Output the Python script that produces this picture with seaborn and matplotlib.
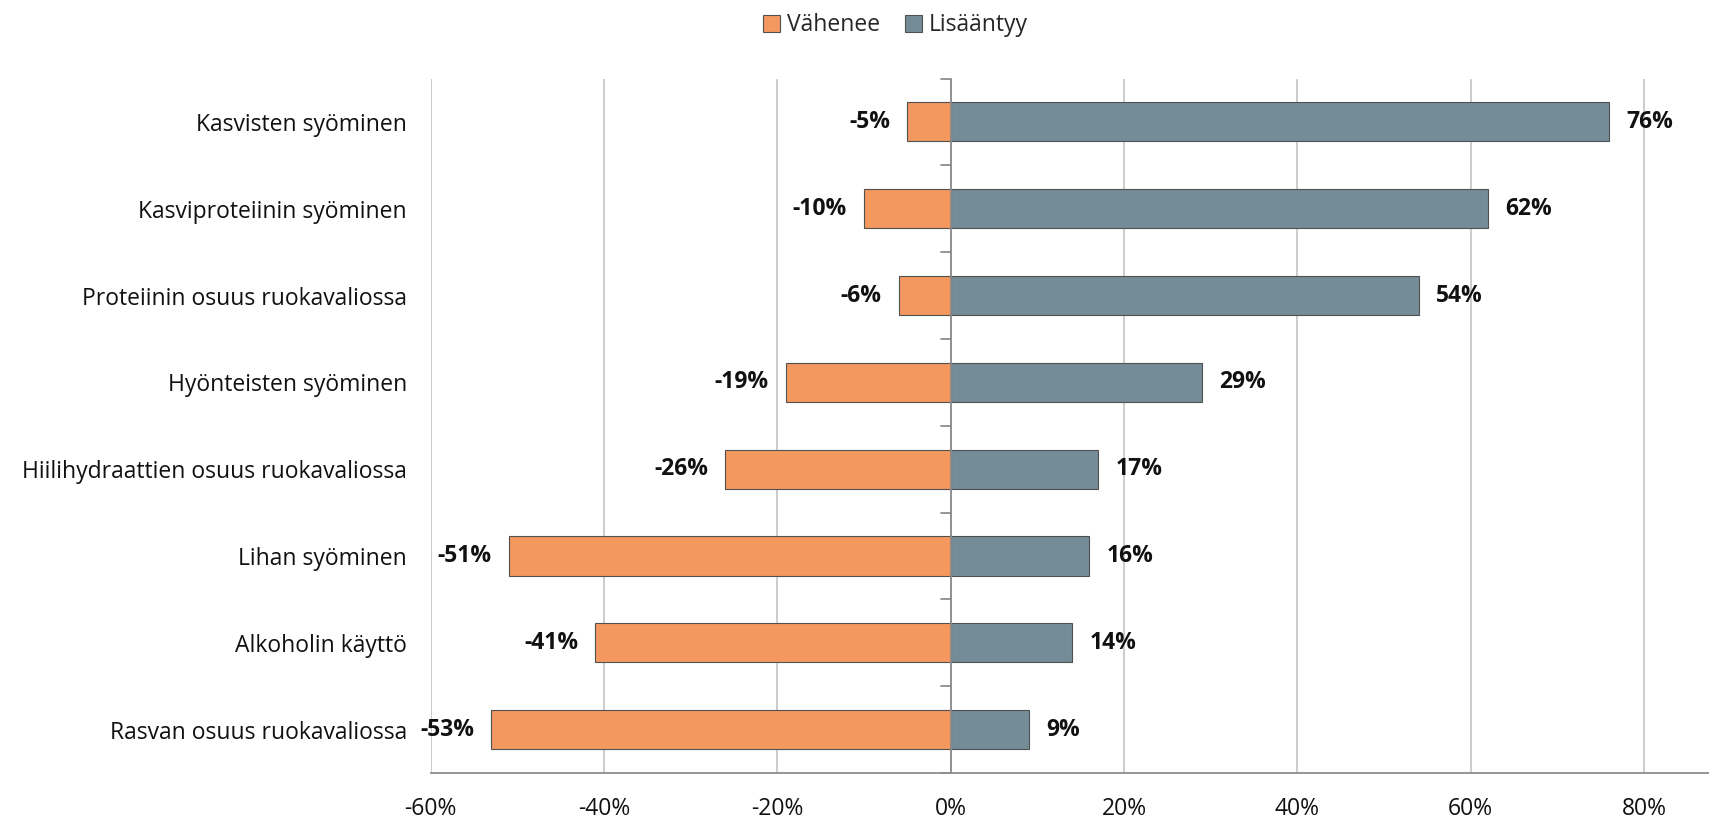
import matplotlib
matplotlib.use("Agg")
import matplotlib.pyplot as plt
import seaborn as sns
import pandas as pd
from matplotlib.patches import Patch

categories = [
    "Kasvisten syöminen",
    "Kasviproteiinin syöminen",
    "Proteiinin osuus ruokavaliossa",
    "Hyönteisten syöminen",
    "Hiilihydraattien osuus ruokavaliossa",
    "Lihan syöminen",
    "Alkoholin käyttö",
    "Rasvan osuus ruokavaliossa",
]
decrease = [-5, -10, -6, -19, -26, -51, -41, -53]
increase = [76, 62, 54, 29, 17, 16, 14, 9]
series_names = ["Vähenee", "Lisääntyy"]
x_ticks = [-60, -40, -20, 0, 20, 40, 60, 80]

colors = {"Vähenee": "#F4985F", "Lisääntyy": "#748C97"}

sns.set_theme(style="white")
plt.rcParams["font.family"] = ["Open Sans", "DejaVu Sans"]
FS = 16.5

df = pd.DataFrame({
    "kategoria": categories * 2,
    "arvo": decrease + increase,
    "sarja": [series_names[0]] * len(categories) + [series_names[1]] * len(categories),
})

fig = plt.figure(figsize=(17.09, 8.18), dpi=100)
ax = fig.add_axes([0.252, 0.055, 0.748, 0.849])

sns.barplot(
    data=df, y="kategoria", x="arvo", hue="sarja", dodge=False,
    palette=colors, saturation=1, orient="h", width=0.45, edgecolor="#505050",
    linewidth=0.8, ax=ax, legend=False, order=categories,
    hue_order=series_names,
)

ax.set_xlim(-60, 87.5)
ax.set_ylim(len(categories) - 0.5, -0.5)
ax.set_xticks(x_ticks)
ax.set_xticklabels([f"{t}%" for t in x_ticks], fontsize=FS, color="#111111")
ax.set_xlabel("")
ax.set_ylabel("")

# vertical gridlines
ax.grid(axis="x", color="#c8c8c8", linewidth=1.3)
ax.set_axisbelow(True)

for side in ["top", "right", "left"]:
    ax.spines[side].set_visible(False)
ax.spines["bottom"].set_color("#8c8c8c")
ax.spines["bottom"].set_linewidth(1.3)
ax.tick_params(axis="x", length=6, width=1.3, color="#8c8c8c", direction="out", pad=11)

# zero line acts as the category axis, ticks between categories
ax.axvline(0, color="#8c8c8c", linewidth=1.3, zorder=3)
ax.set_yticks(range(len(categories)))
ax.set_yticklabels(categories, fontsize=FS, color="#111111")
ax.tick_params(axis="y", length=0, pad=17)
for b in [i + 0.5 for i in range(-1, len(categories))]:
    ax.plot([-1.1, 0], [b, b], color="#8c8c8c", linewidth=1.3, zorder=3, clip_on=False)

# value labels
for i, (d, u) in enumerate(zip(decrease, increase)):
    ax.text(d - 2.0, i, f"{d}%", ha="right", va="center", fontsize=FS,
            fontweight="bold", color="#111111")
    ax.text(u + 2.0, i, f"{u}%", ha="left", va="center", fontsize=FS,
            fontweight="bold", color="#111111")

handles = [Patch(facecolor=colors[s], edgecolor="#505050", linewidth=0.8) for s in series_names]
fig.legend(handles, series_names, loc="center", bbox_to_anchor=(0.524, 0.969), ncol=2,
           frameon=False, fontsize=FS, handlelength=0.75, handleheight=0.75,
           handletextpad=0.3, columnspacing=1.1)

fig.savefig("out.png", dpi=100)
